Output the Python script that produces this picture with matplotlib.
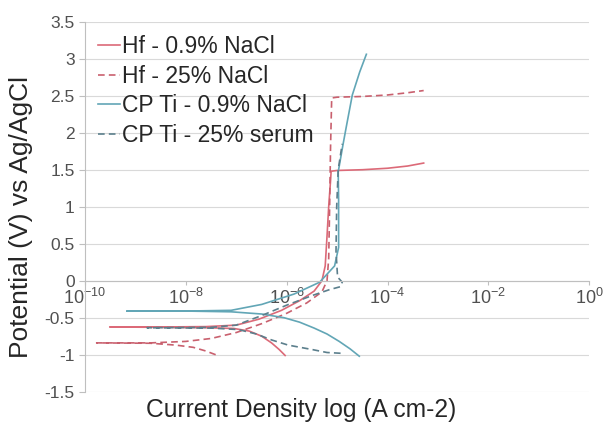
import numpy as np
import matplotlib
matplotlib.use("Agg")
import matplotlib.pyplot as plt

plt.rcParams['font.family'] = ['Liberation Sans', 'DejaVu Sans']
plt.rcParams['mathtext.default'] = 'regular'

# Hf - 0.9% NaCl (cathodic branch -> Ecorr -> anodic branch)
hf09_i = [9.3e-7, 7.1e-7, 5.0e-7, 3.2e-7, 1.8e-7, 8.9e-8, 2.5e-8, 3.2e-9, 3.1e-10,
          3.2e-9, 2.5e-8, 1.0e-7, 2.8e-7, 7.9e-7, 1.8e-6, 3.5e-6, 5.0e-6, 5.8e-6,
          6.3e-6, 6.8e-6, 7.4e-6, 7.6e-6, 1.0e-5, 3.2e-5, 1.0e-4, 2.5e-4, 5.2e-4]
hf09_e = [-1.01, -0.93, -0.84, -0.75, -0.68, -0.645, -0.635, -0.63, -0.625,
          -0.625, -0.62, -0.60, -0.52, -0.40, -0.27, -0.14, 0.0, 0.2,
          0.6, 1.0, 1.35, 1.48, 1.49, 1.50, 1.52, 1.55, 1.59]

# Hf - 25% NaCl
hf25_i = [3.9e-8, 2.5e-8, 1.4e-8, 6.3e-9, 2.0e-9, 1.7e-10,
          2.0e-9, 1.0e-8, 3.2e-8, 1.0e-7, 3.2e-7, 1.0e-6, 2.5e-6, 5.0e-6, 6.3e-6,
          6.8e-6, 7.1e-6, 7.4e-6, 7.8e-6, 1.0e-5, 3.2e-5, 1.0e-4, 2.5e-4, 5.2e-4]
hf25_e = [-1.0, -0.95, -0.90, -0.87, -0.845, -0.84,
          -0.84, -0.82, -0.78, -0.70, -0.58, -0.44, -0.30, -0.15, 0.0,
          0.3, 1.0, 1.8, 2.47, 2.48, 2.49, 2.51, 2.54, 2.57]

# CP Ti - 0.9% NaCl
ti09_i = [2.75e-5, 1.8e-5, 1.1e-5, 6.3e-6, 3.5e-6, 1.8e-6, 8.9e-7, 3.2e-7, 7.9e-8, 1.0e-8, 6.8e-10,
          1.0e-8, 7.9e-8, 3.2e-7, 1.4e-6, 4.5e-6, 8.9e-6, 1.07e-5, 1.07e-5, 1.05e-5,
          1.3e-5, 1.5e-5, 2.0e-5, 2.8e-5, 3.8e-5]
ti09_e = [-1.02, -0.92, -0.82, -0.72, -0.64, -0.56, -0.50, -0.45, -0.42, -0.41, -0.41,
          -0.41, -0.40, -0.32, -0.18, -0.02, 0.2, 0.45, 1.1, 1.47,
          1.83, 2.06, 2.51, 2.82, 3.06]

# CP Ti - 25% serum
tiser_i = [1.17e-5, 6.3e-6, 3.2e-6, 1.07e-6, 5.0e-7, 2.5e-7, 1.1e-7, 3.2e-8, 1.7e-9,
           3.2e-8, 1.0e-7, 3.2e-7, 1.0e-6, 3.2e-6, 7.1e-6, 1.17e-5, 1.26e-5,
           1.02e-5, 9.5e-6, 9.8e-6, 1.05e-5, 1.26e-5]
tiser_e = [-0.98, -0.97, -0.93, -0.87, -0.80, -0.72, -0.66, -0.64, -0.635,
           -0.63, -0.60, -0.47, -0.33, -0.20, -0.12, -0.08, -0.02,
           0.05, 0.4, 1.0, 1.5, 1.85]

labels = ["Hf - 0.9% NaCl", "Hf - 25% NaCl", "CP Ti - 0.9% NaCl", "CP Ti - 25% serum"]
x_ticks = [1e-10, 1e-8, 1e-6, 1e-4, 1e-2, 1e0]
x_ticklabels = [r'$10^{-10}$', r'$10^{-8}$', r'$10^{-6}$', r'$10^{-4}$', r'$10^{-2}$', r'$10^{0}$']
y_ticks = [-1.5, -1, -0.5, 0, 0.5, 1, 1.5, 2, 2.5, 3, 3.5]
y_ticklabels = ['-1.5', '-1', '-0.5', '0', '0.5', '1', '1.5', '2', '2.5', '3', '3.5']

fig = plt.figure(figsize=(6.05, 4.3), dpi=100)
ax = fig.add_axes([0.1405, 0.089, 0.8335, 0.8605])

dash = (0, (4, 2.5))
ax.plot(hf09_i, hf09_e, color="#dc6a78", lw=1.2, label=labels[0])
ax.plot(hf25_i, hf25_e, color="#c9606e", lw=1.2, ls=dash, label=labels[1])
ax.plot(ti09_i, ti09_e, color="#62a6b6", lw=1.2, label=labels[2])
ax.plot(tiser_i, tiser_e, color="#5b7f8c", lw=1.2, ls=dash, label=labels[3])

ax.set_xscale('log')
ax.set_xlim(1e-10, 1e0)
ax.set_ylim(-1.5, 3.5)
ax.set_xticks(x_ticks)
ax.set_xticklabels(x_ticklabels)
ax.xaxis.set_minor_locator(matplotlib.ticker.NullLocator())
ax.set_yticks(y_ticks)
ax.set_yticklabels(y_ticklabels)

ax.yaxis.grid(True, color="#d9d9d9", lw=0.8)
ax.set_axisbelow(True)
for s in ['top', 'right']:
    ax.spines[s].set_visible(False)
ax.spines['bottom'].set_position(('data', 0))
ax.spines['bottom'].set_color("#bfbfbf")
ax.spines['left'].set_color("#bfbfbf")
ax.tick_params(axis='y', colors="#bfbfbf", labelcolor="#505050", labelsize=12.5, length=4)
ax.tick_params(axis='x', colors="#bfbfbf", labelcolor="#505050", labelsize=13, pad=2.5, length=3)

fig.text(0.035, 0.495, "Potential (V) vs Ag/AgCl", fontsize=19, color="#262626",
         rotation=90, ha='center', va='center')
fig.text(0.498, 0.046, "Current Density log (A cm-2)", fontsize=17.7, color="#262626",
         ha='center', va='center')

ax.legend(loc='upper left', bbox_to_anchor=(0.026, 0.965), frameon=False, fontsize=16.5,
          handlelength=0.96, handletextpad=0.1, labelspacing=0.3, borderpad=0,
          borderaxespad=0, labelcolor="#262626")

fig.savefig("out.png", dpi=100)
